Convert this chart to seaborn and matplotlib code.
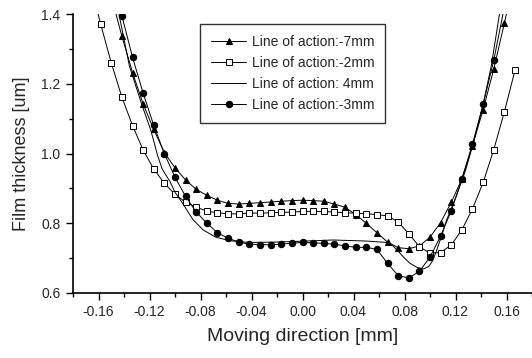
import matplotlib
matplotlib.use("Agg")
import matplotlib.pyplot as plt
import seaborn as sns
from matplotlib.ticker import MultipleLocator

# ---- data ----
tri_x = [-0.1500, -0.1417, -0.1333, -0.1250, -0.1167, -0.1083, -0.1000, -0.0917, -0.0833,
         -0.0750, -0.0667, -0.0583, -0.0500, -0.0417, -0.0333, -0.0250, -0.0167, -0.0083,
         0.0000, 0.0083, 0.0167, 0.0250, 0.0333, 0.0417, 0.0500, 0.0583, 0.0667, 0.0750,
         0.0833, 0.0917, 0.1000, 0.1083, 0.1167, 0.1250, 0.1333, 0.1417, 0.1500, 0.1583, 0.1667]
tri_y = [1.45, 1.337, 1.232, 1.142, 1.069, 1.002, 0.959, 0.924, 0.897, 0.880, 0.866, 0.857,
         0.855, 0.857, 0.859, 0.861, 0.863, 0.865, 0.866, 0.865, 0.863, 0.855, 0.846, 0.825,
         0.800, 0.773, 0.746, 0.730, 0.727, 0.735, 0.760, 0.802, 0.860, 0.927, 1.022, 1.126,
         1.242, 1.373, 1.51]

sq_x = [-0.1667, -0.1583, -0.1500, -0.1417, -0.1333, -0.1250, -0.1167, -0.1083, -0.1000,
        -0.0917, -0.0833, -0.0750, -0.0667, -0.0583, -0.0500, -0.0417, -0.0333, -0.0250,
        -0.0167, -0.0083, 0.0000, 0.0083, 0.0167, 0.0250, 0.0333, 0.0417, 0.0500, 0.0583,
        0.0667, 0.0750, 0.0833, 0.0917, 0.1000, 0.1083, 0.1167, 0.1250, 0.1333, 0.1417,
        0.1500, 0.1583, 0.1667]
sq_y = [1.49, 1.371, 1.260, 1.162, 1.080, 1.010, 0.956, 0.914, 0.883, 0.860, 0.846, 0.835,
        0.830, 0.827, 0.827, 0.829, 0.829, 0.830, 0.831, 0.832, 0.834, 0.834, 0.834, 0.832,
        0.830, 0.829, 0.827, 0.825, 0.821, 0.804, 0.770, 0.733, 0.714, 0.716, 0.738, 0.781,
        0.841, 0.917, 1.011, 1.119, 1.239]

solid_x = [-0.1470, -0.1440, -0.1357, -0.1260, -0.1190, -0.1137, -0.1100, -0.1040, -0.1000,
           -0.0940, -0.0860, -0.0780, -0.0680, -0.0570, -0.0420, -0.0210, 0.0030, 0.0240,
           0.0500, 0.0660, 0.0710, 0.0760, 0.0800, 0.0840, 0.0900, 0.0950, 0.0990, 0.1020,
           0.1050, 0.1090, 0.1130, 0.1205, 0.1280, 0.1340, 0.1410, 0.1480, 0.1545, 0.1560]
solid_y = [1.44, 1.40, 1.25, 1.14, 1.067, 0.995, 0.955, 0.920, 0.889, 0.857, 0.811, 0.781,
           0.760, 0.750, 0.745, 0.746, 0.749, 0.752, 0.749, 0.745, 0.735, 0.716, 0.700, 0.686,
           0.673, 0.669, 0.676, 0.692, 0.720, 0.763, 0.809, 0.876, 0.953, 1.030, 1.130, 1.250,
           1.400, 1.43]

circ_x = [-0.1500, -0.1417, -0.1333, -0.1250, -0.1167, -0.1083, -0.1000, -0.0917, -0.0833,
          -0.0750, -0.0667, -0.0583, -0.0500, -0.0417, -0.0333, -0.0250, -0.0167, -0.0083,
          0.0000, 0.0083, 0.0167, 0.0250, 0.0333, 0.0417, 0.0500, 0.0583, 0.0667, 0.0750,
          0.0833, 0.0917, 0.1000, 0.1083, 0.1167, 0.1250, 0.1333, 0.1417, 0.1500, 0.1583]
circ_y = [1.53, 1.395, 1.276, 1.173, 1.081, 0.999, 0.932, 0.877, 0.832, 0.800, 0.773, 0.757,
          0.746, 0.740, 0.739, 0.738, 0.740, 0.743, 0.745, 0.744, 0.742, 0.740, 0.735, 0.731,
          0.731, 0.725, 0.685, 0.650, 0.643, 0.662, 0.703, 0.763, 0.836, 0.927, 1.027, 1.141,
          1.267, 1.42]

labels = ["Line of action:-7mm", "Line of action:-2mm", "Line of action: 4mm", "Line of action:-3mm"]
x_ticks = [-0.16, -0.12, -0.08, -0.04, 0.00, 0.04, 0.08, 0.12, 0.16]
y_ticks = [0.6, 0.8, 1.0, 1.2, 1.4]

# ---- style ----
sns.set_style("ticks")
plt.rcParams["font.family"] = ["Liberation Sans", "DejaVu Sans"]

fig = plt.figure(figsize=(5.32, 3.58), dpi=100)
ax = fig.add_axes([73 / 532, 65 / 358, 459 / 532, 279 / 358])

lw = 0.7
sns.lineplot(x=tri_x, y=tri_y, ax=ax, sort=False, color="black", linewidth=lw,
             marker="^", markersize=5, markerfacecolor="black", markeredgecolor="black",
             label=labels[0])
sns.lineplot(x=sq_x, y=sq_y, ax=ax, sort=False, color="black", linewidth=lw,
             marker="s", markersize=4, markerfacecolor="white", markeredgecolor="black",
             markeredgewidth=0.7, label=labels[1])
sns.lineplot(x=solid_x, y=solid_y, ax=ax, sort=False, color="black", linewidth=lw,
             label=labels[2])
sns.lineplot(x=circ_x, y=circ_y, ax=ax, sort=False, color="black", linewidth=lw,
             marker="o", markersize=4.6, markerfacecolor="black", markeredgecolor="black",
             label=labels[3])

ax.set_xlim(-0.18, 0.18)
ax.set_ylim(0.6, 1.4)
ax.set_xticks(x_ticks)
ax.set_xticklabels([f"{v:.2f}" for v in x_ticks], fontsize=10)
ax.set_yticks(y_ticks)
ax.set_yticklabels([f"{v:.1f}" for v in y_ticks], fontsize=10)
ax.xaxis.set_minor_locator(MultipleLocator(0.02))
ax.yaxis.set_minor_locator(MultipleLocator(0.1))
ax.tick_params(which="major", direction="out", length=5, width=1, color="black", pad=4)
ax.tick_params(which="minor", direction="out", length=3, width=1, color="black")

for side in ("top", "right"):
    ax.spines[side].set_visible(False)
for side in ("left", "bottom"):
    ax.spines[side].set_linewidth(1.2)
    ax.spines[side].set_color("black")

ax.set_xlabel("Moving direction [mm]", fontsize=14, labelpad=6)
ax.set_ylabel("Film thickness [um]", fontsize=13, labelpad=8)

leg = ax.legend(loc="upper left", bbox_to_anchor=(0.277, 0.964), borderaxespad=0,
                fontsize=10, frameon=True, fancybox=False, edgecolor="black",
                handlelength=2.5, handletextpad=0.4, labelspacing=0.5, borderpad=0.8)
leg.get_frame().set_linewidth(1.0)

fig.savefig("out.png", dpi=100)
